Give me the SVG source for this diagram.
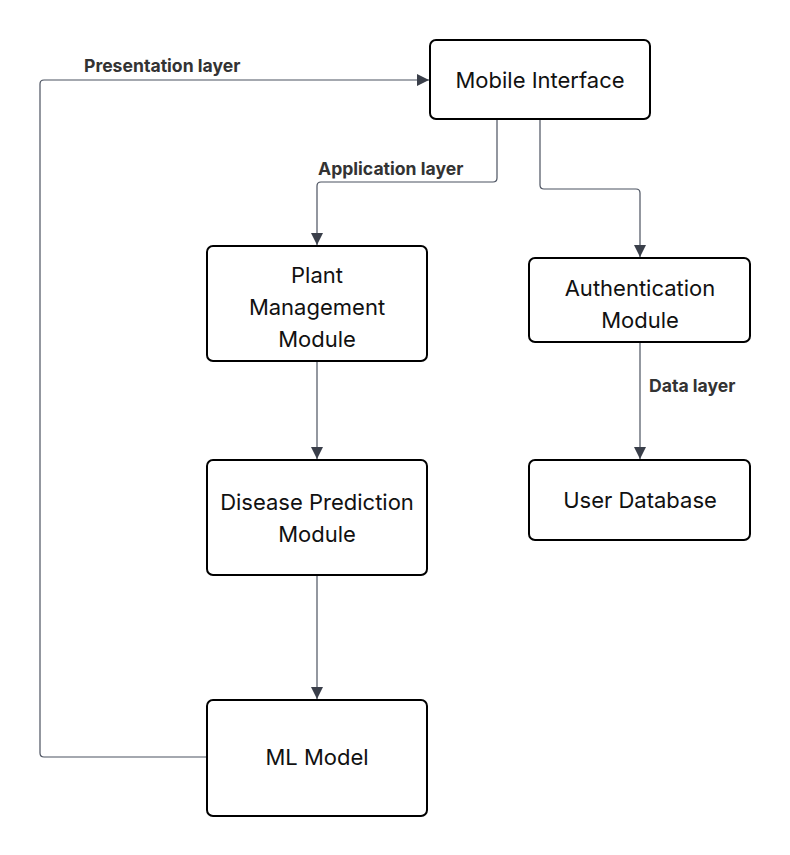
<svg xmlns="http://www.w3.org/2000/svg" width="790" height="855" viewBox="0 0 790 855">
<defs>
<style>
.node rect{fill:#fff;stroke:#000;stroke-width:2}
.node text{font-family:Inter,"Liberation Sans",sans-serif;font-size:22px;fill:#111;text-anchor:middle;dominant-baseline:central}
.edge{fill:none;stroke:#4b5260;stroke-width:1.2}
.lbl{font-family:Inter,"Liberation Sans",sans-serif;font-size:17.6px;font-weight:bold;fill:#333}
</style>
<marker id="arr" viewBox="0 0 10 10" refX="10" refY="5" markerWidth="12" markerHeight="12" markerUnits="userSpaceOnUse" orient="auto">
<path d="M0,0 L10,5 L0,10 Z" fill="#3a3f4a"/>
</marker>
</defs>
<rect width="790" height="855" fill="#fff"/>
<g id="connectors">
<path class="edge" d="M497,120 V178 Q497,182 493,182 H321 Q317,182 317,186 V245" marker-end="url(#arr)"/>
<path class="edge" d="M540,120 V185 Q540,189 544,189 H636 Q640,189 640,193 V257" marker-end="url(#arr)"/>
<path class="edge" d="M640,343 V459" marker-end="url(#arr)"/>
<path class="edge" d="M317,362 V459" marker-end="url(#arr)"/>
<path class="edge" d="M317,576 V699" marker-end="url(#arr)"/>
<path class="edge" d="M206,757 H44 Q40,757 40,753 V84 Q40,80 44,80 H429" marker-end="url(#arr)"/>
<text class="lbl" x="84" y="72">Presentation layer</text>
<text class="lbl" x="318" y="175">Application layer</text>
<text class="lbl" x="649" y="392">Data layer</text>
</g>
<g id="mobile" class="node"><rect x="430" y="40" width="220" height="79" rx="6"/><text x="540" y="80">Mobile Interface</text></g>
<g id="plant" class="node"><rect x="207" y="246" width="220" height="115" rx="6"/><text x="317" y="275">Plant</text><text x="317" y="307">Management</text><text x="317" y="339">Module</text></g>
<g id="disease" class="node"><rect x="207" y="460" width="220" height="115" rx="6"/><text x="317" y="502">Disease Prediction</text><text x="317" y="534">Module</text></g>
<g id="ml" class="node"><rect x="207" y="700" width="220" height="116" rx="6"/><text x="317" y="757">ML Model</text></g>
<g id="auth" class="node"><rect x="529" y="258" width="221" height="84" rx="6"/><text x="640" y="288">Authentication</text><text x="640" y="320">Module</text></g>
<g id="userdb" class="node"><rect x="529" y="460" width="221" height="80" rx="6"/><text x="640" y="500">User Database</text></g>
</svg>
